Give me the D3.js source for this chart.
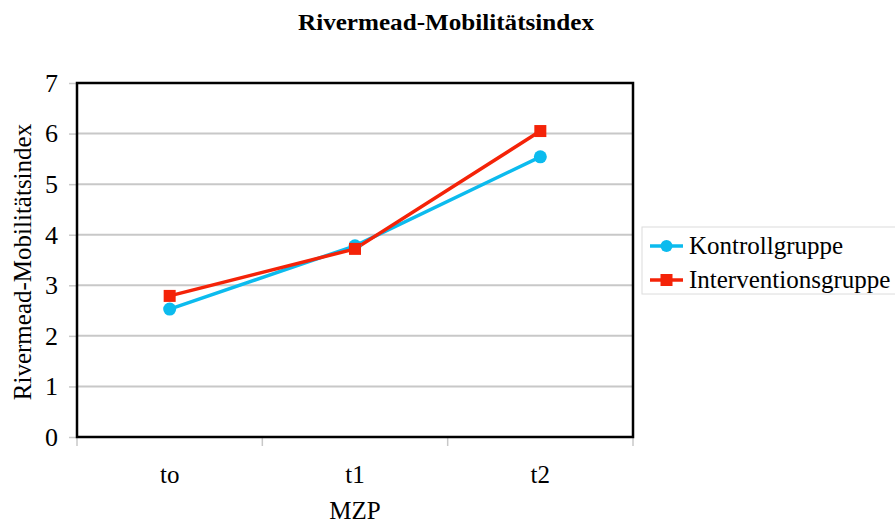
<!DOCTYPE html>
<html>
<head>
<meta charset="utf-8">
<script src="https://cdn.jsdelivr.net/npm/d3@7"></script>
<style>
  body { margin: 0; background: #fff; }
  text { font-family: "Liberation Serif", "DejaVu Serif", serif; }
</style>
</head>
<body>
<div id="chart"></div>
<script>
// data
const categories = ["to", "t1", "t2"];
const kontroll = [2.53, 3.78, 5.54];
const intervention = [2.79, 3.72, 6.05];
const yTicks = [0, 1, 2, 3, 4, 5, 6, 7];

const seriesNames = ["Kontrollgruppe", "Interventionsgruppe"];
const seriesColors = ["#0cbbee", "#f42308"];

const W = 895, H = 526;
const margin = {top: 83, right: 262, bottom: 89, left: 77};
const width = W - margin.left - margin.right,
  height = H - margin.top - margin.bottom;
const fs = "25px";

const svg = d3.select("#chart")
  .append("svg")
    .attr("width", W)
    .attr("height", H);

const g = svg.append("g")
  .attr("transform", `translate(${margin.left},${margin.top})`);

const x = d3.scaleBand()
  .domain(categories)
  .range([0, width]);

const y = d3.scaleLinear()
  .domain([0, 7])
  .range([height, 0]);

// gridlines
g.selectAll(".grid")
  .data(yTicks.slice(1, -1))
  .join("line")
    .attr("x1", 0)
    .attr("x2", width)
    .attr("y1", d => y(d))
    .attr("y2", d => y(d))
    .attr("stroke", "#c8c8c8")
    .attr("stroke-width", 2);

// y axis
const yAxis = g.append("g")
  .call(d3.axisLeft(y).tickValues(yTicks).tickSize(8).tickPadding(11).tickFormat(d3.format("d")));
yAxis.select(".domain").remove();
yAxis.selectAll(".tick line").attr("stroke", "#c8c8c8").attr("stroke-width", 1.5);
yAxis.selectAll(".tick text")
  .style("font-family", "'Liberation Serif', serif")
  .style("font-size", "26px")
  .attr("fill", "#000");

// x axis: ticks at band edges
const edges = categories.map(c => x(c)).concat([width]);
g.selectAll(".xtick")
  .data(edges)
  .join("line")
    .attr("x1", d => d)
    .attr("x2", d => d)
    .attr("y1", height)
    .attr("y2", height + 9)
    .attr("stroke", "#c8c8c8")
    .attr("stroke-width", 1.5);

g.selectAll(".xlabel")
  .data(categories)
  .join("text")
    .attr("x", d => x(d) + x.bandwidth() / 2)
    .attr("y", height + 46)
    .attr("text-anchor", "middle")
    .style("font-size", fs)
    .text(d => d);

// plot frame
g.append("rect")
  .attr("width", width)
  .attr("height", height)
  .attr("fill", "none")
  .attr("stroke", "#000")
  .attr("stroke-width", 2.5);

// lines
const line = d3.line()
  .x((d, i) => x(categories[i]) + x.bandwidth() / 2)
  .y(d => y(d));

const allSeries = [kontroll, intervention];
allSeries.forEach((vals, s) => {
  g.append("path")
    .datum(vals)
    .attr("d", line)
    .attr("fill", "none")
    .attr("stroke", seriesColors[s])
    .attr("stroke-width", 3.5);
});

// markers
g.selectAll(".dot")
  .data(kontroll)
  .join("circle")
    .attr("cx", (d, i) => x(categories[i]) + x.bandwidth() / 2)
    .attr("cy", d => y(d))
    .attr("r", 6.5)
    .attr("fill", seriesColors[0]);

g.selectAll(".sq")
  .data(intervention)
  .join("rect")
    .attr("x", (d, i) => x(categories[i]) + x.bandwidth() / 2 - 6)
    .attr("y", d => y(d) - 6)
    .attr("width", 12)
    .attr("height", 12)
    .attr("fill", seriesColors[1]);

// title
svg.append("text")
  .attr("x", 446)
  .attr("y", 30)
  .attr("text-anchor", "middle")
  .attr("textLength", 296)
  .attr("lengthAdjust", "spacingAndGlyphs")
  .style("font-size", "24px")
  .style("font-weight", "bold")
  .text("Rivermead-Mobilitätsindex");

// axis titles
svg.append("text")
  .attr("transform", `translate(31,${margin.top + height / 2 + 2}) rotate(-90)`)
  .attr("text-anchor", "middle")
  .style("font-size", fs)
  .text("Rivermead-Mobilitätsindex");

svg.append("text")
  .attr("x", margin.left + width / 2)
  .attr("y", 519)
  .attr("text-anchor", "middle")
  .style("font-size", fs)
  .text("MZP");

// legend
const legend = svg.append("g").attr("transform", "translate(642,227)");
legend.append("rect")
  .attr("width", 260)
  .attr("height", 67)
  .attr("fill", "#fff")
  .attr("stroke", "#dcdcdc")
  .attr("stroke-width", 1);

seriesNames.forEach((name, i) => {
  const row = legend.append("g").attr("transform", `translate(0,${19 + i * 34})`);
  row.append("line")
    .attr("x1", 8).attr("x2", 41)
    .attr("stroke", seriesColors[i])
    .attr("stroke-width", 3.5);
  if (i === 0) {
    row.append("circle").attr("cx", 24.5).attr("r", 6).attr("fill", seriesColors[i]);
  } else {
    row.append("rect").attr("x", 18.5).attr("y", -6).attr("width", 12).attr("height", 12).attr("fill", seriesColors[i]);
  }
  row.append("text")
    .attr("x", 47)
    .attr("y", 8)
    .style("font-size", fs)
    .text(name);
});
</script>
</body>
</html>
